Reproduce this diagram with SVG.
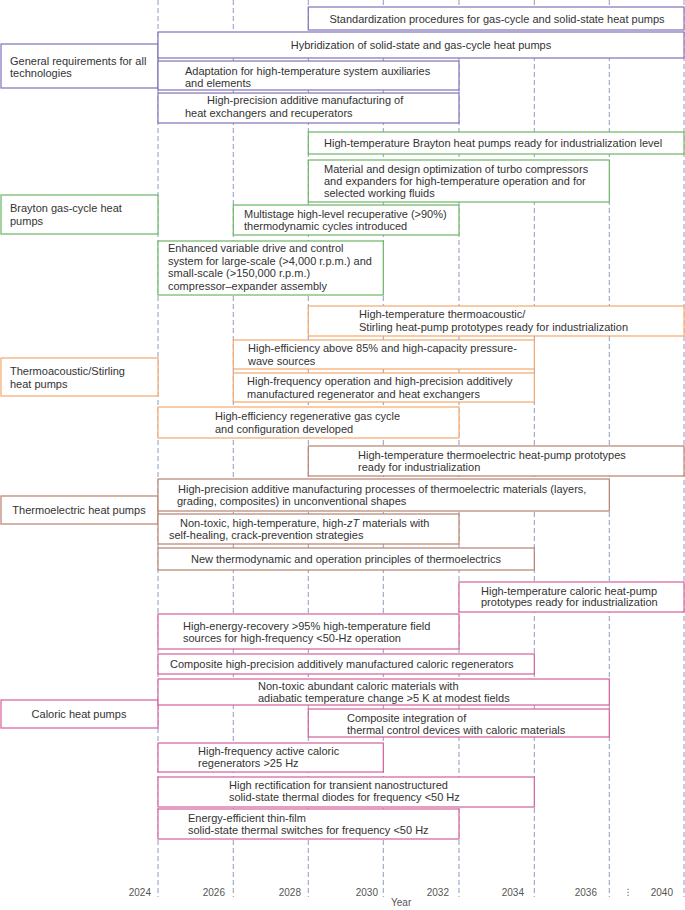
<svg xmlns="http://www.w3.org/2000/svg" width="685" height="910" viewBox="0 0 685 910">
<style>
text{font-family:"Liberation Sans",Arial,sans-serif;font-size:11px;fill:#333}
.yr{font-size:10px;fill:#555;text-anchor:end}
.grid line{stroke:#8d9cc2;stroke-width:1;stroke-dasharray:5 3}
rect{fill:#fff;stroke-width:1.2}
.pu rect{stroke:#8071b8}
.gr rect{stroke:#6db564}
.or rect{stroke:#f5a76c}
.br rect{stroke:#b8806f}
.pk rect{stroke:#d4609a}
.m{text-anchor:middle}
</style>
<rect x="0" y="0" width="685" height="910" fill="#fff" style="stroke:none"/>
<g id="connectors" class="grid">
<line x1="158" y1="0" x2="158" y2="897"/>
<line x1="233.3" y1="0" x2="233.3" y2="897"/>
<line x1="308.3" y1="0" x2="308.3" y2="897"/>
<line x1="383.3" y1="0" x2="383.3" y2="897"/>
<line x1="459" y1="0" x2="459" y2="897"/>
<line x1="534.3" y1="0" x2="534.3" y2="897"/>
<line x1="609.3" y1="0" x2="609.3" y2="897"/>
<line x1="684" y1="0" x2="684" y2="897"/>
</g>
<g id="axis">
<text class="yr" x="151" y="896">2024</text>
<text class="yr" x="225" y="896">2026</text>
<text class="yr" x="301" y="896">2028</text>
<text class="yr" x="378" y="896">2030</text>
<text class="yr" x="449" y="896">2032</text>
<text class="yr" x="524" y="896">2034</text>
<text class="yr" x="597" y="896">2036</text>
<text class="yr" x="673" y="896">2040</text>
<text x="628" y="895" style="font-family:'DejaVu Sans',sans-serif;font-size:9px;fill:#555;text-anchor:middle">⋮</text>
<text x="391" y="906" style="font-size:10px;fill:#555">Year</text>
</g>

<g id="cat-general" class="pu"><rect x="1" y="44" width="157" height="44"/><text x="10" y="64.5">General requirements for all</text><text x="10" y="77">technologies</text></g>
<g id="cat-brayton" class="gr"><rect x="1" y="195" width="157" height="39"/><text x="10" y="212">Brayton gas-cycle heat</text><text x="10" y="225">pumps</text></g>
<g id="cat-thermoacoustic" class="or"><rect x="1" y="358" width="157" height="38"/><text x="10" y="374.5">Thermoacoustic/Stirling</text><text x="10" y="387.5">heat pumps</text></g>
<g id="cat-thermoelectric" class="br"><rect x="1" y="496" width="157" height="28"/><text class="m" x="79" y="514">Thermoelectric heat pumps</text></g>
<g id="cat-caloric" class="pk"><rect x="1" y="700" width="157" height="28"/><text class="m" x="79" y="718">Caloric heat pumps</text></g>

<g id="g-a" class="pu"><rect x="308.3" y="7" width="375.7" height="23"/><text class="m" x="497" y="22.5">Standardization procedures for gas-cycle and solid-state heat pumps</text></g>
<g id="g-b" class="pu"><rect x="158" y="32" width="526" height="26"/><text class="m" x="421" y="48.5">Hybridization of solid-state and gas-cycle heat pumps</text></g>
<g id="g-c" class="pu"><rect x="158" y="61" width="301" height="29"/><text x="185" y="74.5">Adaptation for high-temperature system auxiliaries</text><text x="185" y="86.5">and elements</text></g>
<g id="g-d" class="pu"><rect x="158" y="93" width="301" height="30"/><text x="207" y="103.5">High-precision additive manufacturing of</text><text x="185" y="116.5">heat exchangers and recuperators</text></g>

<g id="b-e" class="gr"><rect x="308.3" y="132" width="375.7" height="22"/><text x="324" y="146.5">High-temperature Brayton heat pumps ready for industrialization level</text></g>
<g id="b-f" class="gr"><rect x="308.3" y="160" width="301" height="42"/><text x="324" y="172.5">Material and design optimization of turbo compressors</text><text x="324" y="184.5">and expanders for high-temperature operation and for</text><text x="324" y="197">selected working fluids</text></g>
<g id="b-g" class="gr"><rect x="233.3" y="205" width="225.7" height="30"/><text x="244" y="217.5">Multistage high-level recuperative (&gt;90%)</text><text x="244" y="229.5">thermodynamic cycles introduced</text></g>
<g id="b-h" class="gr"><rect x="158" y="241" width="225.3" height="54"/><text x="168" y="252">Enhanced variable drive and control</text><text x="168" y="264.5">system for large-scale (&gt;4,000 r.p.m.) and</text><text x="168" y="277">small-scale (&gt;150,000 r.p.m.)</text><text x="168" y="289.5">compressor–expander assembly</text></g>

<g id="t-i" class="or"><rect x="308.3" y="306" width="375.7" height="30"/><text x="359" y="318">High-temperature thermoacoustic/</text><text x="359" y="330.5">Stirling heat-pump prototypes ready for industrialization</text></g>
<g id="t-j" class="or"><rect x="233.3" y="340" width="301" height="29"/><text x="248" y="352">High-efficiency above 85% and high-capacity pressure-</text><text x="248" y="364.5">wave sources</text></g>
<g id="t-k" class="or"><rect x="233.3" y="373" width="301" height="29"/><text x="247" y="385">High-frequency operation and high-precision additively</text><text x="247" y="397.5">manufactured regenerator and heat exchangers</text></g>
<g id="t-l" class="or"><rect x="158" y="407" width="301" height="31"/><text x="215" y="420">High-efficiency regenerative gas cycle</text><text x="215" y="432.5">and configuration developed</text></g>

<g id="e-m" class="br"><rect x="308.3" y="446" width="375.7" height="30"/><text x="358" y="458.5">High-temperature thermoelectric heat-pump prototypes</text><text x="358" y="470.5">ready for industrialization</text></g>
<g id="e-n" class="br"><rect x="158" y="479" width="451.3" height="32"/><text x="178" y="492.5">High-precision additive manufacturing processes of thermoelectric materials (layers,</text><text x="177" y="504.5">grading, composites) in unconventional shapes</text></g>
<g id="e-o" class="br"><rect x="158" y="514" width="301" height="30"/><text x="180" y="527">Non-toxic, high-temperature, high-<tspan font-style="italic">zT</tspan> materials with</text><text x="169" y="539">self-healing, crack-prevention strategies</text></g>
<g id="e-p" class="br"><rect x="158" y="548" width="376.3" height="22"/><text class="m" x="346" y="562.5">New thermodynamic and operation principles of thermoelectrics</text></g>

<g id="c-q" class="pk"><rect x="459" y="582" width="225" height="30"/><text x="481" y="594.5">High-temperature caloric heat-pump</text><text x="481" y="606">prototypes ready for industrialization</text></g>
<g id="c-r" class="pk"><rect x="158" y="614" width="301" height="35"/><text x="183" y="629.5">High-energy-recovery &gt;95% high-temperature field</text><text x="183" y="641.5">sources for high-frequency &lt;50-Hz operation</text></g>
<g id="c-s" class="pk"><rect x="158" y="654" width="376.3" height="20"/><text x="170" y="667.5">Composite high-precision additively manufactured caloric regenerators</text></g>
<g id="c-t" class="pk"><rect x="158" y="679" width="451.3" height="26"/><text x="258" y="689.5">Non-toxic abundant caloric materials with</text><text x="258" y="701.5">adiabatic temperature change &gt;5 K at modest fields</text></g>
<g id="c-u" class="pk"><rect x="308.3" y="709" width="301" height="28"/><text x="347" y="721.5">Composite integration of</text><text x="347" y="733.5">thermal control devices with caloric materials</text></g>
<g id="c-v" class="pk"><rect x="158" y="743" width="225.3" height="29"/><text x="198" y="754.5">High-frequency active caloric</text><text x="198" y="767">regenerators &gt;25 Hz</text></g>
<g id="c-w" class="pk"><rect x="158" y="777" width="376.3" height="30"/><text x="229" y="788.5">High rectification for transient nanostructured</text><text x="229" y="800.5">solid-state thermal diodes for frequency &lt;50 Hz</text></g>
<g id="c-x" class="pk"><rect x="158" y="809" width="301" height="30"/><text x="188" y="821.5">Energy-efficient thin-film</text><text x="188" y="833.5">solid-state thermal switches for frequency &lt;50 Hz</text></g>
</svg>
